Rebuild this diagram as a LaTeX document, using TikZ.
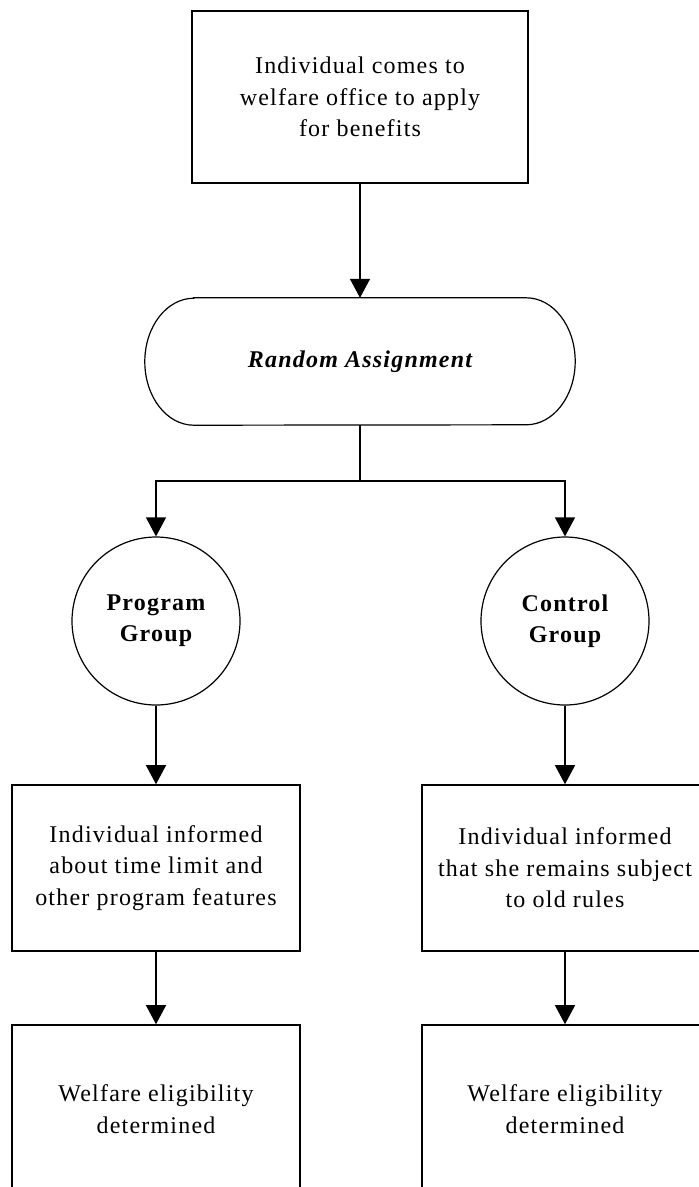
\documentclass[tikz,border=0pt]{standalone}
\usepackage{fontspec}
\setmainfont{Liberation Serif}[LetterSpace=5]
\usetikzlibrary{arrows.meta,calc}
\begin{document}
\begin{tikzpicture}[x=1pt,y=1pt,
  txt/.style={font=\fontsize{24}{31.5}\selectfont, align=center, inner sep=0pt},
  boxnode/.style={txt, draw, line width=1.6pt, inner sep=0pt},
  circnode/.style={circle, draw, line width=1.2pt, minimum size=168pt, inner sep=0pt,
     font=\fontsize{24}{31}\selectfont\bfseries, align=center},
  arr/.style={line width=1.3pt, -{Triangle[width=20pt,length=19pt]}},
  plain/.style={line width=1.3pt}]
\useasboundingbox (0,0) rectangle (699,-1187);
\clip (0,0) rectangle (699,-1187);
% top box
\node[boxnode, minimum width=336pt, minimum height=172pt] (top) at (360,-97)
  {Individual comes to\\welfare office to apply\\for benefits};
% random assignment (stadium)
\node[txt, minimum width=430pt, minimum height=127pt,
  font=\fontsize{24}{31}\selectfont\bfseries\itshape] (ra) at (360,-361.5) {Random Assignment};
\draw[line width=1.2pt]
  ($(ra.north west)+(49,0)$) -- ($(ra.north east)+(-49,0)$)
  arc[start angle=90,end angle=-90,x radius=49,y radius=63.5]
  -- ($(ra.south west)+(49,0)$)
  arc[start angle=270,end angle=90,x radius=49,y radius=63.5] -- cycle;
% circles
\node[circnode] (pg) at (156,-621) {Program\\Group};
\node[circnode] (cg) at (565,-621) {Control\\Group};
% middle boxes
\node[boxnode, minimum width=288pt, minimum height=166pt] (pinf) at (156,-868)
  {Individual informed\\about time limit and\\other program features};
\node[boxnode, minimum width=286pt, minimum height=166pt] (cinf) at (565,-868)
  {Individual informed\\that she remains subject\\to old rules};
% bottom boxes
\node[boxnode, minimum width=288pt, minimum height=168pt] (pwel) at (156,-1109)
  {Welfare eligibility\\determined};
\node[boxnode, minimum width=286pt, minimum height=168pt] (cwel) at (565,-1109)
  {Welfare eligibility\\determined};
% connectors
\coordinate (fork) at (360,-481);
\draw[arr] (top.south) -- (ra.north);
\draw[plain] (ra.south) -- (fork);
\draw[arr] (fork) -| (pg.north);
\draw[arr] (fork) -| (cg.north);
\draw[arr] (pg.south) -- (pinf.north);
\draw[arr] (cg.south) -- (cinf.north);
\draw[arr] (pinf.south) -- (pwel.north);
\draw[arr] (cinf.south) -- (cwel.north);
\end{tikzpicture}
\end{document}
